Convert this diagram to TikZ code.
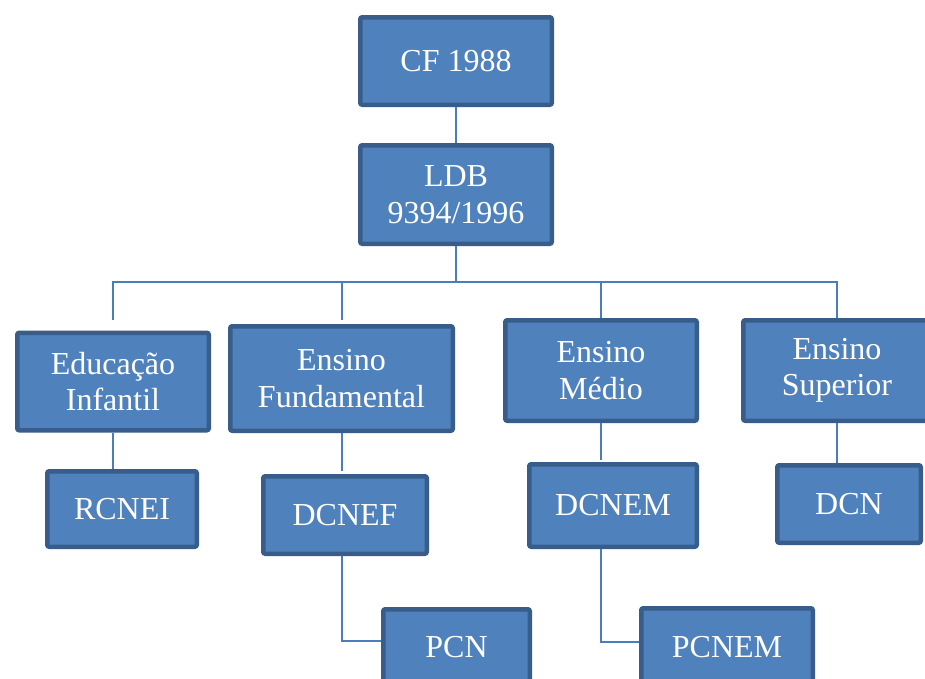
\documentclass[tikz,border=0pt]{standalone}
\usepackage{fontspec}
\setmainfont{Liberation Serif}
\usepackage{tikz}
\usetikzlibrary{positioning,
calc % for the shifted end points of the links
}
\definecolor{boxfill}{HTML}{4F81BD}
\definecolor{boxline}{HTML}{385D8A}
\definecolor{linkcol}{HTML}{4A7EBB}
\tikzset{%
  x=1pt, y=1pt,
  box/.style={% every rectangle of the chart
    rectangle, draw=boxline, fill=boxfill, line width=4.5pt,
    rounded corners=2pt, text=white, align=center, inner sep=0pt,
    font=\fontsize{32}{36.5}\selectfont
  },
  link/.style={draw=linkcol, line width=2pt}
}

\begin{document}
\begin{tikzpicture}
    \clip (0,0) rectangle (925,-678);
    \fill[white] (0,0) rectangle (925,-678);

    \node[box, minimum width=191.5pt, minimum height=87.5pt] (cf) at (456,-61) {CF 1988};
    \node[box, minimum width=191.5pt, minimum height=98.5pt, below=36pt of cf] (ldb) {LDB\\9394/1996};

    \node[box, minimum width=191.5pt, minimum height=97.5pt] (ei) at (113,-381.5) {Educação\\Infantil};
    \node[box, minimum width=222.5pt, minimum height=104.5pt] (ef) at (341.5,-378.5) {Ensino\\Fundamental};
    \node[box, minimum width=191.5pt, minimum height=100.5pt] (em) at (601,-370.5) {Ensino\\Médio};
    \node[box, minimum width=187.5pt, minimum height=100.5pt] (es) at (837,-370.5) {Ensino\\Superior};

    \node[box, minimum width=149.5pt, minimum height=75.5pt] (rcnei) at (122,-509) {RCNEI};
    \node[box, minimum width=163.5pt, minimum height=77.5pt] (dcnef) at (345,-515) {DCNEF};
    \node[box, minimum width=167.5pt, minimum height=82.5pt] (dcnem) at (613,-505.5) {DCNEM};
    \node[box, minimum width=143.5pt, minimum height=77.5pt] (dcn) at (849,-504) {DCN};

    \node[box, minimum width=146.5pt, minimum height=75.5pt] (pcn) at (456.5,-647) {PCN};
    \node[box, minimum width=171.5pt, minimum height=77.5pt] (pcnem) at (727,-647) {PCNEM};

    \draw[link] (cf) -- (ldb);
    \draw[link] (ldb.south) -- ++(0,-36) coordinate (bus);
    \draw[link] (bus) -| ([yshift=11pt]ei.north);
    \draw[link] (bus) -| ([yshift=4pt]ef.north);
    \draw[link] (bus) -| (em.north);
    \draw[link] (bus) -| (es.north);

    \draw[link] (ei.south) -- (ei.south |- rcnei.north);
    \draw[link] (ef.south) -- ([yshift=3pt]ef.south |- dcnef.north);
    \draw[link] (em.south) -- ([yshift=2pt]em.south |- dcnem.north);
    \draw[link] (es.south) -- (es.south |- dcn.north);

    \draw[link] (dcnef.south -| ef.south) |- ([yshift=6pt]pcn.west);
    \draw[link] (dcnem.south -| em.south) |- ([yshift=5pt]pcnem.west);
  \end{tikzpicture}
\end{document}
